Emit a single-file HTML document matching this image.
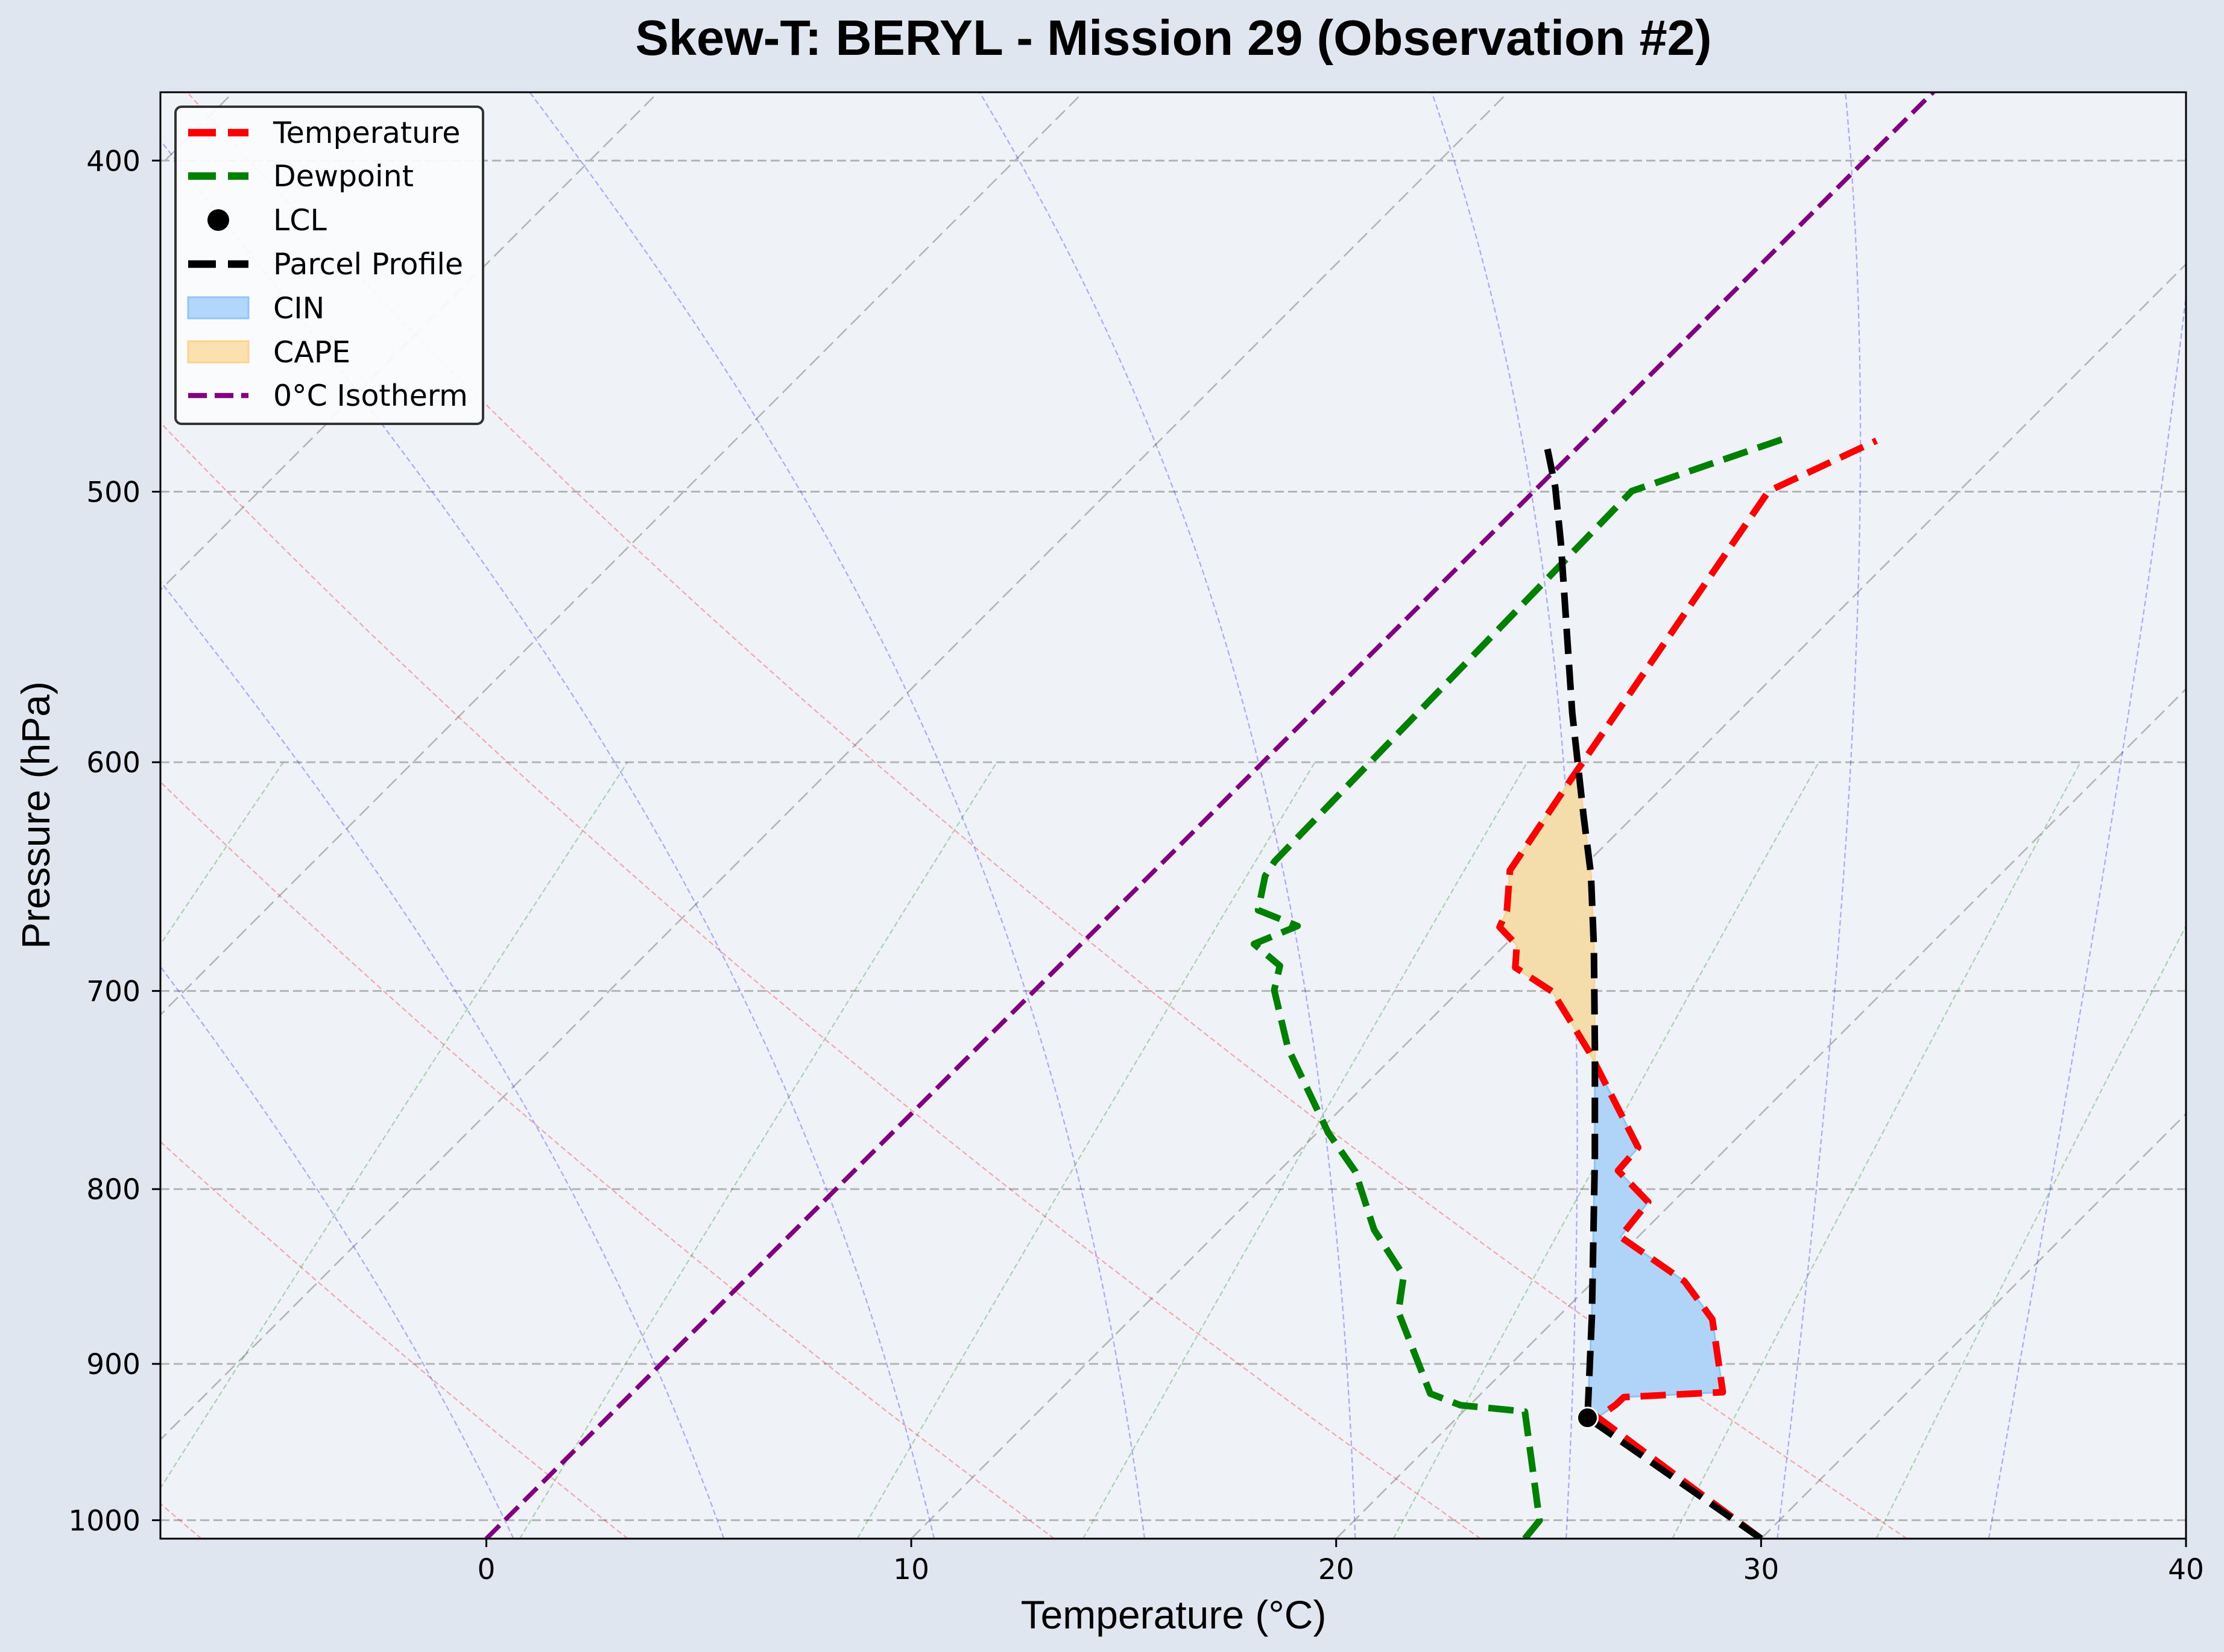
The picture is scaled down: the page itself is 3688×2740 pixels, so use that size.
<!DOCTYPE html>
<html>
<head>
<meta charset="utf-8">
<style>
  html,body{margin:0;padding:0;background:#dfe6f0;}
  svg{display:block;font-family:"DejaVu Sans","Liberation Sans",sans-serif;}
  .lib{font-family:"Liberation Sans","DejaVu Sans",sans-serif;}
</style>
</head>
<body>
<svg id="chart" xmlns="http://www.w3.org/2000/svg" width="3688" height="2740" viewBox="0 0 3688 2740">
  <defs>
    <clipPath id="plotclip"><rect x="266" y="153" width="3359" height="2399"/></clipPath>
  </defs>
  <rect x="0" y="0" width="3688" height="2740" fill="#dfe6f0"/>
  <rect x="266" y="153" width="3359" height="2399" fill="#eff3f8"/>
  <g id="bg" clip-path="url(#plotclip)"></g>
  <g id="fills" clip-path="url(#plotclip)"></g>
  <g id="series" clip-path="url(#plotclip)"></g>
  <rect x="266" y="153" width="3359" height="2399" fill="none" stroke="#000" stroke-width="3"/>
  <g id="axes"></g>
  <text class="lib" x="1946" y="91" text-anchor="middle" font-size="83" font-weight="bold" fill="#000">Skew-T: BERYL - Mission 29 (Observation #2)</text>
  <text class="lib" x="1946" y="2701" text-anchor="middle" font-size="66" fill="#000">Temperature (°C)</text>
  <text class="lib" x="82" y="1352" text-anchor="middle" font-size="66" fill="#000" transform="rotate(-90 82 1352)">Pressure (hPa)</text>

  <g>
    <rect x="291" y="177" width="510" height="526" rx="10" fill="#fbfcfd" fill-opacity="0.92" stroke="#333" stroke-width="4"/>
    <g>
      <line x1="312" y1="220" x2="412" y2="220" stroke="#ff0000" stroke-width="12.5" stroke-dasharray="46 20"/>
      <text x="453" y="237" font-size="49">Temperature</text>
    </g>
    <g>
      <line x1="312" y1="292" x2="412" y2="292" stroke="#008000" stroke-width="12.5" stroke-dasharray="46 20"/>
      <text x="453" y="309" font-size="49">Dewpoint</text>
    </g>
    <g>
      <ellipse cx="362" cy="365" rx="18" ry="18" fill="#000"/>
      <text x="453" y="382" font-size="49">LCL</text>
    </g>
    <g>
      <line x1="312" y1="438" x2="412" y2="438" stroke="#000" stroke-width="12.5" stroke-dasharray="46 20"/>
      <text x="453" y="455" font-size="49">Parcel Profile</text>
    </g>
    <g>
      <rect x="312" y="493" width="100" height="35" fill="#b3d7fa" stroke="#90c6f8" stroke-width="3"/>
      <text x="453" y="528" font-size="49">CIN</text>
    </g>
    <g>
      <rect x="312" y="566" width="100" height="35" fill="#fbe1b0" stroke="#fbd38a" stroke-width="3"/>
      <text x="453" y="601" font-size="49">CAPE</text>
    </g>
    <g>
      <line x1="312" y1="656" x2="412" y2="656" stroke="#800080" stroke-width="8.4" stroke-dasharray="31 13"/>
      <text x="453" y="673" font-size="49">0°C Isotherm</text>
    </g>
  </g>
</svg>
<script>
// ---------- data ----------
const tempP = [1012.5, 933.0, 925.1, 920.4, 917.3, 873.4, 851.3, 826.1, 807.0, 790.1, 777.9, 729.5, 700.3, 689.0, 678.7, 670.5, 663.2, 645.4, 606.2, 499.8, 483.1];
const tempT = [30.0, 23.3, 23.43, 23.44, 25.65, 23.69, 22.14, 19.58, 19.42, 17.97, 17.90, 14.51, 12.21, 10.77, 10.28, 9.45, 9.24, 8.36, 7.64, 5.52, 6.87];
const dewP = [1012.5, 1000.2, 929.4, 925.4, 918.2, 869.1, 848.1, 822.2, 790.6, 770.2, 727.5, 699.6, 688.2, 678.2, 670.0, 662.9, 647.8, 641.4, 499.8, 482.1];
const dewT = [24.44, 24.36, 21.45, 19.78, 18.80, 16.13, 15.40, 13.62, 11.81, 10.26, 7.32, 5.63, 5.19, 4.07, 4.67, 3.37, 2.73, 2.61, 2.30, 4.70];
const parcelP = [1012.5, 933.3, 871.5, 783.0, 729.5, 679.6, 647.1, 622.9, 580.4, 517.7, 498.4, 484.4];
const parcelT = [30.0, 23.07, 20.78, 17.11, 14.64, 12.14, 10.36, 8.86, 6.12, 1.86, 0.40, -0.80];
const lclP = 933.3;
const lclT = 23.07;
const fillBottomP = 933.3;
const fillTopP = 605;
const pressureTicks = [400, 500, 600, 700, 800, 900, 1000];
const tempTicks = [0, 10, 20, 30, 40];
const isothermTemps = [-40, -30, -20, -10, 10, 20, 30, 40];
const dryThetasC = [-7.65, 2.35, 12.35, 22.35, 32.35];
const moistStartT = [0, 5, 10, 15, 20, 25, 30, 35];
const mixingRatios = [0.0004, 0.001, 0.002, 0.004, 0.007, 0.01, 0.016, 0.024, 0.032];

// ---------- axes ----------
const L = 266, R = 3625, TOP = 153, BOT = 2552;
const T_MIN = -7.67, T_MAX = 40;
const P_BOT = 1012.5, P_TOP = 382;
const PX_PER_DEG = (R - L) / (T_MAX - T_MIN);
const PX_PER_LN = (BOT - TOP) / Math.log(P_BOT / P_TOP);
function yOf(p){ return BOT - PX_PER_LN * Math.log(P_BOT / p); }
function xOf(T, p){ return L + (T - T_MIN) * PX_PER_DEG + (BOT - yOf(p)); }

const NS = "http://www.w3.org/2000/svg";
function mk(tag, parent){ const e = document.createElementNS(NS, tag); parent.appendChild(e); return e; }
function pathFrom(ps, ts){
  let d = "";
  for (let i = 0; i < ps.length; i++){
    d += (i ? "L" : "M") + xOf(ts[i], ps[i]).toFixed(1) + " " + yOf(ps[i]).toFixed(1);
  }
  return d;
}
const bg = document.getElementById("bg");
const fills = document.getElementById("fills");
const series = document.getElementById("series");
const axes = document.getElementById("axes");

pressureTicks.forEach(function(p){
  const ln = mk("line", bg);
  
  
  ln.setAttribute("x1", L); ln.setAttribute("x2", R);
  ln.setAttribute("y1", yOf(p)); ln.setAttribute("y2", yOf(p));
  ln.setAttribute("stroke", "#b4b4b4"); ln.setAttribute("stroke-width", "3");
  ln.setAttribute("stroke-dasharray", "15 7");
});

isothermTemps.forEach(function(T){
  const pth = mk("path", bg);
  
  
  pth.setAttribute("d", pathFrom([P_BOT, P_TOP], [T, T]));
  pth.setAttribute("stroke", "#b4b4b4"); pth.setAttribute("stroke-width", "2.6");
  pth.setAttribute("fill", "none"); pth.setAttribute("stroke-dasharray", "22 10");
});

dryThetasC.forEach(function(th){
  const ps = [], ts = [];
  for (let p = P_BOT; p >= P_TOP - 1; p -= 5){
    ps.push(p); ts.push((th + 273.15) * Math.pow(p / 1000, 0.2857) - 273.15);
  }
  const pth = mk("path", bg);
  
  
  pth.setAttribute("d", pathFrom(ps, ts));
  pth.setAttribute("stroke", "rgba(255,0,0,0.32)"); pth.setAttribute("stroke-width", "2.2");
  pth.setAttribute("fill", "none"); pth.setAttribute("stroke-dasharray", "9 5");
});

function moistLapse(p, TK){
  const Tc = TK - 273.15;
  const es = 6.112 * Math.exp(17.67 * Tc / (Tc + 243.5));
  const rs = 0.622 * es / (p - es);
  const Lv = 2.501e6, Rd = 287.04, Cp = 1005.7;
  return (Rd * TK + Lv * rs) / (Cp + Lv * Lv * rs * 0.622 / (Rd * TK * TK)) / p;
}
function integrate(p0, T0K, p1){
  const out = [[p0, T0K]];
  let p = p0, T = T0K;
  const n = Math.ceil(Math.abs(p1 - p0) / 1);
  const h = (p1 - p0) / n;
  for (let i = 0; i < n; i++){
    const k1 = moistLapse(p, T);
    const k2 = moistLapse(p + h / 2, T + h / 2 * k1);
    const k3 = moistLapse(p + h / 2, T + h / 2 * k2);
    const k4 = moistLapse(p + h, T + h * k3);
    T += h / 6 * (k1 + 2 * k2 + 2 * k3 + k4);
    p += h;
    out.push([p, T]);
  }
  return out;
}
moistStartT.forEach(function(t0){
  const up = integrate(1000, t0 + 273.15, P_TOP - 1);
  const down = integrate(1000, t0 + 273.15, P_BOT);
  const pts = down.reverse().concat(up.slice(1));
  const ps = pts.map(function(a){ return a[0]; });
  const ts = pts.map(function(a){ return a[1] - 273.15; });
  const pth = mk("path", bg);
  
  
  pth.setAttribute("d", pathFrom(ps, ts));
  pth.setAttribute("stroke", "rgba(0,0,255,0.3)"); pth.setAttribute("stroke-width", "2.2");
  pth.setAttribute("fill", "none"); pth.setAttribute("stroke-dasharray", "9 5");
});

mixingRatios.forEach(function(w){
  const ps = [], ts = [];
  for (let p = P_BOT; p >= 600; p -= 10){
    const e = w * p / (0.622 + w);
    const lg = Math.log(e / 6.112);
    ps.push(p); ts.push(243.5 * lg / (17.67 - lg));
  }
  const e6 = w * 600 / (0.622 + w), lg6 = Math.log(e6 / 6.112);
  ps.push(600); ts.push(243.5 * lg6 / (17.67 - lg6));
  const pth = mk("path", bg);
  
  
  pth.setAttribute("d", pathFrom(ps, ts));
  pth.setAttribute("stroke", "rgba(0,128,0,0.3)"); pth.setAttribute("stroke-width", "2.2");
  pth.setAttribute("fill", "none"); pth.setAttribute("stroke-dasharray", "9 5");
});

function interpLogP(pArr, tArr, p){
  for (let i = 0; i < pArr.length - 1; i++){
    const a = pArr[i], b = pArr[i + 1];
    if ((p <= a && p >= b)){
      const f = (Math.log(a) - Math.log(p)) / (Math.log(a) - Math.log(b));
      return tArr[i] + f * (tArr[i + 1] - tArr[i]);
    }
  }
  return p > pArr[0] ? tArr[0] : tArr[tArr.length - 1];
}
(function(){
  let levels = [];
  for (let p = fillBottomP; p >= fillTopP; p -= 0.25) levels.push(p);
  tempP.concat(parcelP).forEach(function(p){ if (p <= fillBottomP && p >= fillTopP) levels.push(p); });
  levels = Array.from(new Set(levels.map(function(v){ return +v.toFixed(3); }))).sort(function(a, b){ return b - a; });
  const rows = levels.map(function(p){
    const tt = interpLogP(tempP, tempT, p), tp = interpLogP(parcelP, parcelT, p);
    return {p: p, tt: tt, tp: tp, d: tt - tp};
  });
  const runs = [];
  let cur = null;
  for (let i = 0; i < rows.length; i++){
    const r = rows[i];
    const s = r.d >= 0 ? 1 : -1;
    if (!cur){ cur = {sign: s, pts: [r]}; continue; }
    if (s !== cur.sign){
      const prev = rows[i - 1];
      const f = prev.d / (prev.d - r.d);
      const lp = Math.log(prev.p) + f * (Math.log(r.p) - Math.log(prev.p));
      const pc = Math.exp(lp);
      const tc = prev.tt + f * (r.tt - prev.tt);
      const cross = {p: pc, tt: tc, tp: tc, d: 0};
      cur.pts.push(cross);
      runs.push(cur);
      cur = {sign: s, pts: [cross, r]};
    } else cur.pts.push(r);
  }
  if (cur) runs.push(cur);
  runs.forEach(function(run){
    let d = "";
    run.pts.forEach(function(r, i){ d += (i ? "L" : "M") + xOf(r.tt, r.p).toFixed(1) + " " + yOf(r.p).toFixed(1); });
    run.pts.slice().reverse().forEach(function(r){ d += "L" + xOf(r.tp, r.p).toFixed(1) + " " + yOf(r.p).toFixed(1); });
    d += "Z";
    const poly = mk("path", fills);
    if (run.sign > 0){
      
      
      poly.setAttribute("fill", "#afd4f8"); poly.setAttribute("stroke", "#8cc4f8");
    } else {
      
      
      poly.setAttribute("fill", "#f4dcab"); poly.setAttribute("stroke", "#f8d58e");
    }
    poly.setAttribute("stroke-width", "3");
    poly.setAttribute("d", d);
  });
})();

(function(){
  const iso = mk("path", series);
  
  
  iso.setAttribute("d", pathFrom([P_BOT, P_TOP - 2], [0, 0]));
  iso.setAttribute("stroke", "#800080"); iso.setAttribute("stroke-width", "7.5");
  iso.setAttribute("fill", "none"); iso.setAttribute("stroke-dasharray", "31 13");
})();

function drawSeries(ps, ts, color){
  const pth = mk("path", series);
  pth.setAttribute("d", pathFrom(ps, ts));
  pth.setAttribute("stroke", color); pth.setAttribute("stroke-width", "11");
  pth.setAttribute("fill", "none"); pth.setAttribute("stroke-dasharray", "42 18");
  pth.setAttribute("stroke-linejoin", "round");
  return pth;
}
const tLine = drawSeries(tempP, tempT, "#ff0000");


const dLine = drawSeries(dewP, dewT, "#008000");


const pLine = drawSeries(parcelP, parcelT, "#000000");



const lcl = mk("circle", series);


lcl.setAttribute("cx", xOf(lclT, lclP)); lcl.setAttribute("cy", yOf(lclP));
lcl.setAttribute("r", "17"); lcl.setAttribute("fill", "#000");
lcl.setAttribute("stroke", "#fff"); lcl.setAttribute("stroke-width", "3");

pressureTicks.forEach(function(p){
  const y = yOf(p);
  const tk = mk("line", axes);
  
  
  tk.setAttribute("x1", L - 14); tk.setAttribute("x2", L);
  tk.setAttribute("y1", y); tk.setAttribute("y2", y);
  tk.setAttribute("stroke", "#000"); tk.setAttribute("stroke-width", "3");
  const tx = mk("text", axes);
  
  
  tx.setAttribute("x", L - 33); tx.setAttribute("y", y + 17);
  tx.setAttribute("text-anchor", "end"); tx.setAttribute("font-size", "47");
  tx.textContent = String(p);
});
tempTicks.forEach(function(T){
  const x = L + (T - T_MIN) * PX_PER_DEG;
  const tk = mk("line", axes);
  
  
  tk.setAttribute("x1", x); tk.setAttribute("x2", x);
  tk.setAttribute("y1", BOT); tk.setAttribute("y2", BOT + 14);
  tk.setAttribute("stroke", "#000"); tk.setAttribute("stroke-width", "3");
  const tx = mk("text", axes);
  
  
  tx.setAttribute("x", x); tx.setAttribute("y", BOT + 67);
  tx.setAttribute("text-anchor", "middle"); tx.setAttribute("font-size", "47");
  tx.textContent = String(T);
});
</script>
</body>
</html>
